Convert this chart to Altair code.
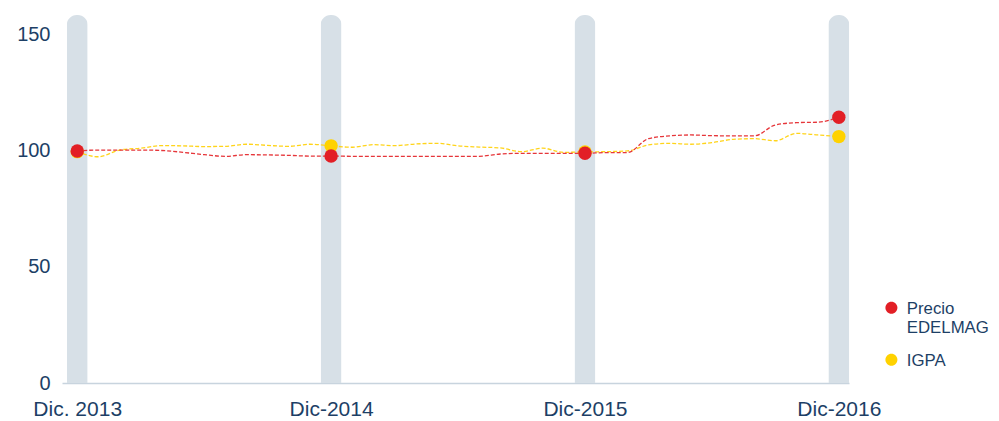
import altair as alt
import pandas as pd

# ---- data (monthly, Dec 2013 = month 0 ... Dec 2016 = month 36)
months = list(range(37))
precio = [100.0, 100.4, 100.4, 100.4, 100.2, 99.4, 98.4, 97.7, 98.4, 98.3, 98.1, 97.8,
          97.8, 97.7, 97.7, 97.7, 97.7, 97.7, 97.7, 97.7, 98.7, 99.0, 99.0, 99.0,
          99.0, 99.3, 99.3, 105.3, 106.5, 106.9, 106.6, 106.5, 106.5, 111.2, 112.2, 112.4, 114.5]
igpa = [99.7, 97.5, 100.4, 101.2, 102.3, 102.2, 101.9, 102.0, 102.9, 102.4, 102.0, 102.9,
        102.2, 101.6, 102.7, 102.3, 103.0, 103.3, 102.2, 101.7, 101.3, 99.7, 101.2, 99.4,
        99.6, 99.7, 100.0, 102.6, 103.3, 102.9, 103.6, 105.0, 105.3, 104.4, 107.6, 106.9, 106.2]
series_names = ["Precio|EDELMAG", "IGPA"]
series_colors = ["#e21f26", "#ffd200"]
line_colors = ["#e6363a", "#ffd41a"]
marker_months = [0, 12, 24, 36]
tick_labels = ["Dic. 2013", "Dic-2014", "Dic-2015", "Dic-2016"]
y_ticks = [0, 50, 100, 150]
band_top = 158.6

NAVY = "#1d3f66"
FONT = "Liberation Sans"
# legend dot: a unit circle drawn a little below the label's top edge
LEGEND_DOT = "M -1 1.05 A 1 1 0 1 0 1 1.05 A 1 1 0 1 0 -1 1.05 Z"

rows = []
for name, vals in ((series_names[1], igpa), (series_names[0], precio)):
    for m, v in zip(months, vals):
        rows.append({"month": m, "value": v, "series": name})
df = pd.DataFrame(rows)
df_pts = df[df["month"].isin(marker_months)]
bars_df = pd.DataFrame({"month": marker_months, "top": [band_top] * len(marker_months)})

label_expr = ""
for m, lab in zip(marker_months, tick_labels):
    label_expr += f"datum.value == {m} ? '{lab}' : "
label_expr += "''"

xscale = alt.Scale(domain=[-0.72, 36.48], nice=False, zero=False, padding=0)
yscale = alt.Scale(domain=[0, band_top], nice=False)

xaxis = alt.Axis(values=marker_months, labelExpr=label_expr, title=None, grid=False,
                 ticks=False, domainColor="#c8d4de", domainWidth=1.5,
                 labelFont=FONT, labelFontSize=21, labelColor=NAVY, labelPadding=15,
                 labelBaseline="top")
yaxis = alt.Axis(values=y_ticks, title=None, grid=False, ticks=False, domain=False,
                 labelFont=FONT, labelFontSize=20, labelColor=NAVY, labelPadding=12)

color_line = alt.Scale(domain=series_names, range=line_colors)
color_pts = alt.Scale(domain=series_names, range=series_colors)

bars = alt.Chart(bars_df).mark_bar(
    size=21, color="#d7e0e7", cornerRadiusTopLeft=10, cornerRadiusTopRight=10
).encode(
    x=alt.X("month:Q", scale=xscale, axis=xaxis),
    y=alt.Y("top:Q", scale=yscale, axis=yaxis),
)

lines = alt.Chart(df).mark_line(
    strokeDash=[4, 2], strokeWidth=1.3, interpolate="monotone"
).encode(
    x=alt.X("month:Q", scale=xscale),
    y=alt.Y("value:Q", scale=yscale),
    color=alt.Color("series:N", scale=color_line, legend=None),
    detail="series:N",
)

points = alt.Chart(df_pts).mark_circle(size=180, opacity=1).encode(
    x=alt.X("month:Q", scale=xscale),
    y=alt.Y("value:Q", scale=yscale),
    fill=alt.Fill("series:N", scale=color_pts, sort=series_names,
                  legend=alt.Legend(title=None, orient="none", legendX=821, legendY=278,
                                    labelExpr="split(datum.label, '|')",
                                    labelFont=FONT, labelFontSize=16.8, labelColor=NAVY,
                                    symbolSize=144, symbolType=LEGEND_DOT,
                                    labelOffset=7, rowPadding=8, padding=0,
                                    labelBaseline="top", labelLimit=200)),
)

chart = alt.layer(bars, lines, points).resolve_scale(color="independent").properties(
    width=787, height=368,
    autosize=alt.AutoSizeParams(type="none"),
    padding={"left": 54, "top": 7, "right": 142, "bottom": 38},
).configure_view(strokeWidth=0)

chart.save("out.html", embed_options={"renderer": "svg", "actions": False})
